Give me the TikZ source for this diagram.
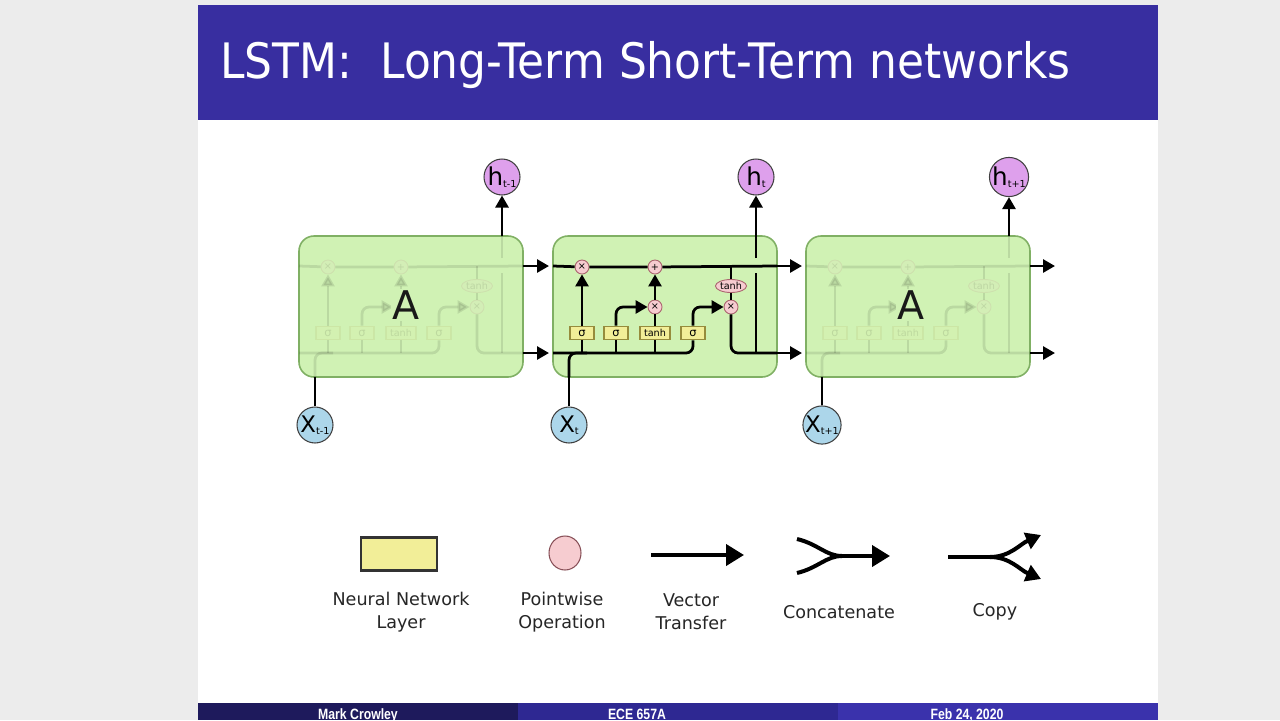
\documentclass[tikz,border=0pt]{standalone}
\usepackage{fontspec}
\setmainfont{DejaVu Sans}
\newfontfamily\titlefont[FakeStretch=0.9]{DejaVu Sans}
\newfontfamily\footfont[FakeStretch=0.82]{Liberation Sans}
\usetikzlibrary{arrows.meta,shapes.geometric,positioning}

\definecolor{slidegray}{RGB}{236,236,236}
\definecolor{titleblue}{RGB}{56,46,160}
\definecolor{footA}{RGB}{30,26,92}
\definecolor{footB}{RGB}{46,40,146}
\definecolor{footC}{RGB}{58,50,172}
\definecolor{cellgreen}{RGB}{208,242,180}
\definecolor{celledge}{RGB}{128,176,100}
\definecolor{gateyellow}{RGB}{242,238,152}
\definecolor{gateedge}{RGB}{150,140,60}
\definecolor{oppink}{RGB}{246,204,208}
\definecolor{opedge}{RGB}{170,100,110}
\definecolor{hviolet}{RGB}{222,160,236}
\definecolor{xblue}{RGB}{172,214,234}

\newcommand\circlab[2]{#1\raisebox{-0.8pt}{\fontsize{5.5}{5.5}\selectfont #2}}

\tikzset{
  flow/.style={line width=0.055cm, black},
  arr/.style={-{Triangle[length=0.24cm,width=0.26cm]}},
  gate/.style={draw=gateedge, fill=gateyellow, line width=0.6pt, minimum width=0.48cm, minimum height=0.27cm, inner sep=0pt, font=\fontsize{6.5}{6.5}\selectfont},
  wgate/.style={gate, minimum width=0.6cm, font=\fontsize{5.5}{5.5}\selectfont},
  op/.style={circle, draw=opedge, fill=oppink, line width=0.5pt, minimum size=0.28cm, inner sep=0pt, font=\fontsize{5.5}{5.5}\selectfont},
  opell/.style={ellipse, draw=opedge, fill=oppink, line width=0.5pt, minimum width=0.62cm, minimum height=0.26cm, inner sep=0pt, font=\fontsize{5.5}{5.5}\selectfont},
  hnode/.style={circle, draw=black!75, fill=hviolet, line width=0.6pt, minimum size=0.72cm, inner sep=0pt, font=\fontsize{14}{14}\selectfont},
  xnode/.style={hnode, fill=xblue, font=\fontsize{13}{13}\selectfont},
  cellbox/.style={draw=celledge, fill=cellgreen, line width=0.9pt, rounded corners=0.3cm},
  bigA/.style={fill=cellgreen, inner sep=1pt, font=\fontsize{22.5}{22.5}\selectfont, text=black!90},
  titletext/.style={text=white, font=\titlefont\fontsize{27.8}{30}\selectfont, inner sep=0pt},
  foottext/.style={text=white, anchor=base, inner sep=0pt, font=\footfont\bfseries\fontsize{8.5}{9}\selectfont},
  legtext/.style={align=center, text=black!85, font=\fontsize{10}{13}\selectfont},
  legline/.style={line width=0.08cm, black},
  legarr/.style={-{Triangle[length=0.36cm,width=0.42cm]}},
  smallarr/.style={-{Triangle[length=0.3cm,width=0.34cm]}},
  guts/.style={},
  pics/lstmcell/.style={code={
    \draw[cellbox] (0,0) rectangle (224,141);
    \begin{scope}[guts]
      \coordinate (-cin) at (0,30);
      \coordinate (-cout) at (224,30);
      \coordinate (-bin) at (0,117);
      \coordinate (-bout) at (224,117);
      \coordinate (-xin) at (16,141);
      \coordinate (-xjoin) at (34,117);
      \coordinate (-htop) at (203,0);
      \coordinate (-hgapa) at (203,22);
      \coordinate (-hgapb) at (203,37);
      \coordinate (-hbot) at (203,117);
      \coordinate (-tee) at (178,30);
      \coordinate (-b1) at (29,117);
      \coordinate (-b2) at (63,117);
      \coordinate (-b3) at (102,117);
      \node[op] (-m1) at (29,31) {×};
      \node[op] (-a1) at (102,31) {+};
      \node[op] (-m2) at (102,71) {×};
      \node[op] (-m3) at (178,71) {×};
      \node[opell] (-th) at (178,50) {tanh};
      \node[gate] (-s1) at (29,97) {σ};
      \node[gate] (-s2) at (63,97) {σ};
      \node[wgate] (-tg) at (102,97) {tanh};
      \node[gate] (-s3) at (140,97) {σ};
      % cell state and hidden line
      \draw[flow] (-cin) -- (-m1) (-m1) -- (-a1) (-a1) -- (-cout);
      \draw[flow, rounded corners=0.14cm] (-bin) -| (-s3.south);
      \draw[flow, rounded corners=0.14cm] (-xin) |- (-xjoin);
      \draw[flow] (-b1) -- (-s1);
      \draw[flow] (-b2) -- (-s2);
      \draw[flow] (-b3) -- (-tg);
      % gates
      \draw[flow, arr] (-s1) -- (-m1);
      \draw[flow, arr, rounded corners=0.14cm] (-s2.north) |- (-m2.west);
      \draw[flow] (-tg) -- (-m2);
      \draw[flow, arr] (-m2) -- (-a1);
      \draw[flow, arr, rounded corners=0.14cm] (-s3.north) |- (-m3.west);
      \draw[flow] (-tee) -- (-th);
      \draw[flow] (-th) -- (-m3);
      \draw[flow, rounded corners=0.14cm] (-m3) |- (-bout);
      \draw[flow] (-hbot) -- (-hgapb);
      \draw[flow] (-hgapa) -- (-htop);
    \end{scope}
  }},
}

\begin{document}
\begin{tikzpicture}[x=0.02cm, y=-0.02cm]
  \useasboundingbox (0,0) rectangle (1280,720);
  % slide frame
  \fill[slidegray] (0,0) rectangle (1280,720);
  \fill[white] (198,5) rectangle (1158,720);
  \fill[titleblue] (198,5) rectangle (1158,120);
  \node[titletext, anchor=base west] (title) at (220,78) {LSTM:\ \ Long-Term Short-Term networks};
  \fill[footA] (198,703) rectangle (518,720);
  \fill[footB] (518,703) rectangle (838,720);
  \fill[footC] (838,703) rectangle (1158,720);
  \node[foottext] (author) at (358,719) {Mark Crowley};
  \node[foottext] (course) at (637,719) {ECE 657A};
  \node[foottext] (date) at (967,719) {Feb 24, 2020};

  % the unrolled chain
  \pic[guts/.style={opacity=0.1}] (c1) at (299,236) {lstmcell};
  \pic (c2) at (553,236) {lstmcell};
  \pic[guts/.style={opacity=0.1}] (c3) at (806,236) {lstmcell};
  \node[bigA] (A1) at (406,305) {A};
  \node[bigA] (A3) at (911,305) {A};

  \node[hnode] (h1) at (502,177) {\circlab{h}{t-1}};
  \node[hnode] (h2) at (756,177) {\circlab{h}{t}};
  \node[hnode] (h3) at (1009,177) {\circlab{h}{t+1}};
  \node[xnode] (x1) at (315,425) {\circlab{X}{t-1}};
  \node[xnode] (x2) at (569,425) {\circlab{X}{t}};
  \node[xnode] (x3) at (822,425) {\circlab{X}{t+1}};
  \coordinate (e1) at (1055,266);
  \coordinate (e2) at (1055,353);

  \draw[flow, arr, shorten >=0.08cm] (c1-cout) -- (c2-cin);
  \draw[flow, arr, shorten >=0.08cm] (c1-bout) -- (c2-bin);
  \draw[flow, arr, shorten >=0.08cm] (c2-cout) -- (c3-cin);
  \draw[flow, arr, shorten >=0.08cm] (c2-bout) -- (c3-bin);
  \draw[flow, arr] (c3-cout) -- (e1);
  \draw[flow, arr] (c3-bout) -- (e2);
  \draw[flow, arr] (c1-htop) -- (h1);
  \draw[flow, arr] (c2-htop) -- (h2);
  \draw[flow, arr] (c3-htop) -- (h3);
  \draw[flow] (x1) -- (c1-xin);
  \draw[flow] (x2) -- (c2-xin);
  \draw[flow] (x3) -- (c3-xin);

  % legend
  \node[draw=black!80, fill=gateyellow, line width=1.2pt, minimum width=1.52cm, minimum height=0.66cm, inner sep=0pt] (nnl) at (399,554) {};
  \node[legtext] (nnltext) at (401,612) {Neural Network\\Layer};
  \node[ellipse, draw=opedge!80!black, fill=oppink, line width=0.6pt, minimum width=0.64cm, minimum height=0.68cm, inner sep=0pt] (pwo) at (565,553) {};
  \node[legtext] (pwotext) at (562,612) {Pointwise\\Operation};
  \coordinate (vt0) at (651,555);
  \coordinate (vt1) at (744,555);
  \draw[legline, legarr] (vt0) -- (vt1);
  \node[legtext] (vttext) at (691,612) {Vector\\Transfer};
  \coordinate (cc1) at (797,539);
  \coordinate (cc2) at (797,573);
  \coordinate (ccm) at (842,556);
  \coordinate (cce) at (890,556);
  \draw[legline] (cc1) .. controls (818,544) and (826,556) .. (ccm);
  \draw[legline] (cc2) .. controls (818,568) and (826,556) .. (ccm);
  \draw[legline, legarr] (ccm) -- (cce);
  \node[legtext] (cctext) at (839,612) {Concatenate};
  \coordinate (cp0) at (948,557);
  \coordinate (cpm) at (990,557);
  \coordinate (cpa) at (1041,535);
  \coordinate (cpb) at (1041,579);
  \draw[legline] (cp0) -- (cpm);
  \draw[legline, smallarr] (cpm) .. controls (1010,557) and (1020,544) .. (cpa);
  \draw[legline, smallarr] (cpm) .. controls (1010,557) and (1020,570) .. (cpb);
  \node[legtext] (cptext) at (995,612) {Copy};
\end{tikzpicture}
\end{document}
